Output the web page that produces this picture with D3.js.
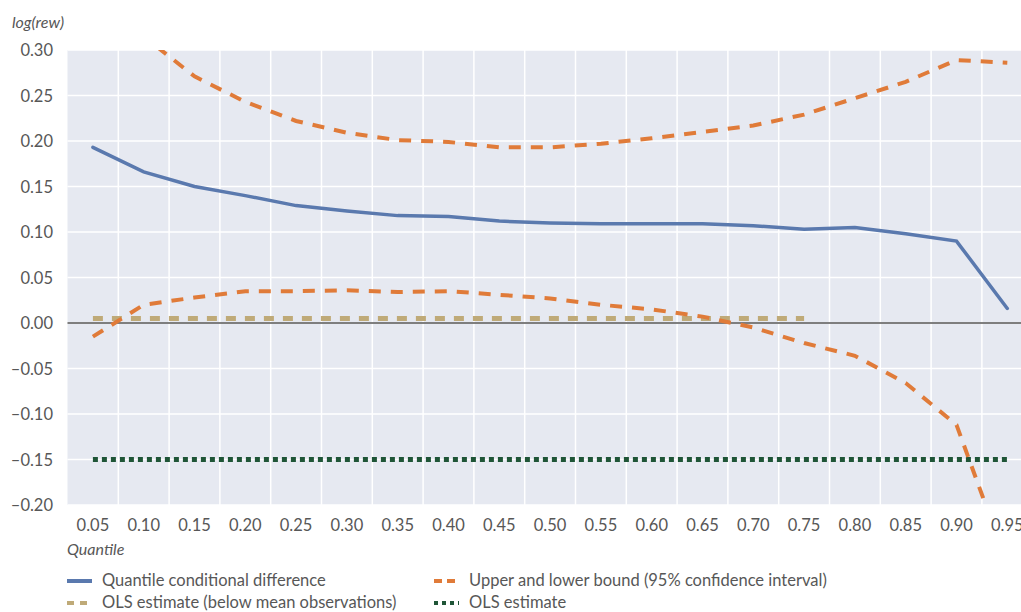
<!DOCTYPE html>
<html>
<head>
<meta charset="utf-8">
<script src="https://cdn.jsdelivr.net/npm/d3@7"></script>
<style>
  body { margin: 0; background: #fff; }
  text { font-family: Lato, "Open Sans", sans-serif; fill: #575757; }
</style>
</head>
<body>
<div id="chart"></div>
<script>
// quantiles on the x axis
var quantiles = ["0.05","0.10","0.15","0.20","0.25","0.30","0.35","0.40","0.45","0.50",
                 "0.55","0.60","0.65","0.70","0.75","0.80","0.85","0.90","0.95"];
var quantDiff = [0.193,0.166,0.150,0.140,0.129,0.123,0.118,0.117,0.112,0.110,
                 0.109,0.109,0.109,0.107,0.103,0.105,0.098,0.090,0.016];
var upperBound = [0.370,0.315,0.271,0.243,0.222,0.209,0.201,0.199,0.193,0.193,
                  0.197,0.203,0.210,0.217,0.229,0.247,0.265,0.289,0.286];
var lowerBound = [-0.015,0.020,0.028,0.035,0.035,0.036,0.034,0.035,0.031,0.027,
                  0.020,0.015,0.007,-0.005,-0.022,-0.036,-0.066,-0.112,-0.265];
var olsBelow = [0.005,0.005,0.005,0.005,0.005,0.005,0.005,0.005,0.005,0.005,
                0.005,0.005,0.005,0.005,0.005];
var olsAll = [-0.15,-0.15,-0.15,-0.15,-0.15,-0.15,-0.15,-0.15,-0.15,-0.15,
              -0.15,-0.15,-0.15,-0.15,-0.15,-0.15,-0.15,-0.15,-0.15];
var yTicks = [0.30,0.25,0.20,0.15,0.10,0.05,0,-0.05,-0.10,-0.15,-0.20];

var w = 1021, h = 612;
var pLeft = 67.5, pTop = 50, pBottom = 505;
var band = 50.8;

var svg = d3.select("#chart").append("svg")
  .attr("width", w).attr("height", h);

var x = d3.scaleBand().domain(quantiles)
  .range([pLeft, pLeft + band * quantiles.length]);
var y = d3.scaleLinear().domain([-0.20, 0.30]).range([pBottom, pTop]);

svg.append("defs").append("clipPath").attr("id", "clip")
  .append("rect").attr("x", pLeft).attr("y", pTop)
  .attr("width", w - pLeft).attr("height", pBottom - pTop);

// background
svg.append("rect").attr("x", pLeft).attr("y", pTop)
  .attr("width", w - pLeft).attr("height", pBottom - pTop)
  .attr("fill", "#e6e9f1");

// horizontal grid
svg.selectAll(".hgrid").data(yTicks).enter().append("line")
  .attr("x1", pLeft).attr("x2", w)
  .attr("y1", function(d) { return y(d); })
  .attr("y2", function(d) { return y(d); })
  .attr("stroke", "#fff").attr("stroke-width", 1.5);

// vertical grid at band boundaries
svg.selectAll(".vgrid").data(quantiles.slice(1)).enter().append("line")
  .attr("x1", function(d) { return x(d); })
  .attr("x2", function(d) { return x(d); })
  .attr("y1", pTop).attr("y2", pBottom)
  .attr("stroke", "#fff").attr("stroke-width", 1.5);

// zero line
svg.append("line").attr("x1", pLeft).attr("x2", w)
  .attr("y1", y(0)).attr("y2", y(0))
  .attr("stroke", "#555").attr("stroke-width", 1.5);

// y labels
svg.selectAll(".ylab").data(yTicks).enter().append("text")
  .attr("x", 53).attr("y", function(d) { return y(d) + 6; })
  .attr("text-anchor", "end").attr("font-size", "16.5px")
  .text(function(d) { return (d < 0 ? "\u2013" : "") + Math.abs(d).toFixed(2); });

// x labels
svg.selectAll(".xlab").data(quantiles).enter().append("text")
  .attr("x", function(d) { return x(d) + x.bandwidth() / 2; })
  .attr("y", 531).attr("text-anchor", "middle").attr("font-size", "16.5px")
  .text(function(d) { return d; });

svg.append("text").attr("x", 12).attr("y", 28)
  .attr("font-size", "16px").attr("font-style", "italic").text("log(rew)");
svg.append("text").attr("x", 67).attr("y", 555)
  .attr("font-size", "16px").attr("font-style", "italic").text("Quantile");

var line = d3.line()
  .x(function(d, i) { return x(quantiles[i]) + x.bandwidth() / 2; })
  .y(function(d) { return y(d); });

var plot = svg.append("g").attr("clip-path", "url(#clip)");

var series = [
  { data: olsAll, color: "#1f5537", width: 5, dash: "5,4", cap: "butt" },
  { data: olsBelow, color: "#bfaa78", width: 5, dash: "10,9", cap: "butt" },
  { data: upperBound, color: "#e07b39", width: 4, dash: "12,10", cap: "butt" },
  { data: lowerBound, color: "#e07b39", width: 4, dash: "12,10", cap: "butt" },
  { data: quantDiff, color: "#5a79ae", width: 3.5, dash: null, cap: "round" }
];
series.forEach(function(s) {
  plot.append("path").attr("d", line(s.data))
    .attr("fill", "none").attr("stroke", s.color)
    .attr("stroke-width", s.width)
    .attr("stroke-dasharray", s.dash)
    .attr("stroke-linecap", s.cap);
});

// legend
var legend = [
  { label: "Quantile conditional difference", color: "#5a79ae", dash: null, x: 67, y: 581 },
  { label: "Upper and lower bound (95% confidence interval)", color: "#e07b39", dash: "8,5", x: 434, y: 581 },
  { label: "OLS estimate (below mean observations)", color: "#bfaa78", dash: "7,6", x: 67, y: 603 },
  { label: "OLS estimate", color: "#1f5537", dash: "4,4", x: 434, y: 603 }
];
var lg = svg.selectAll(".leg").data(legend).enter().append("g");
lg.append("line")
  .attr("x1", function(d) { return d.x; })
  .attr("x2", function(d) { return d.x + 25; })
  .attr("y1", function(d) { return d.y; })
  .attr("y2", function(d) { return d.y; })
  .attr("stroke", function(d) { return d.color; })
  .attr("stroke-width", 4)
  .attr("stroke-dasharray", function(d) { return d.dash; });
lg.append("text")
  .attr("x", function(d) { return d.x + 35; })
  .attr("y", function(d) { return d.y + 5; })
  .attr("font-size", "16.5px")
  .text(function(d) { return d.label; });
</script>
</body>
</html>
